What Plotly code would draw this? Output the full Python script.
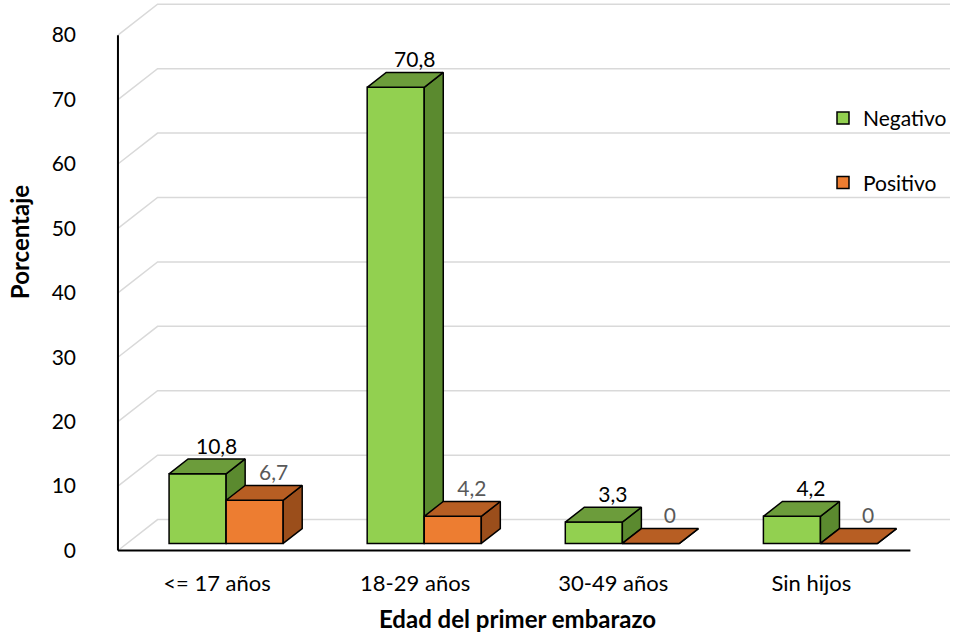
import plotly.graph_objects as go

# Data
categories = ["<= 17 años", "18-29 años", "30-49 años", "Sin hijos"]
negativo = [10.8, 70.8, 3.3, 4.2]
positivo = [6.7, 4.2, 0, 0]
y_ticks = [0, 10, 20, 30, 40, 50, 60, 70, 80]

FONT = "Lato"

# Oblique projection of the depth axis (wall depth in axis units)
WALL_DX = 0.2      # category units
WALL_DY = 4.8      # percentage units
F_FRONT = 0.23     # bar front as a fraction of wall depth
F_BACK = 0.71      # bar back as a fraction of wall depth
BAR_W = 0.288      # bar width in category units

x_pos = list(range(len(categories)))
shift_front = F_FRONT * WALL_DX
base_front = F_FRONT * WALL_DY
bar_dx = (F_BACK - F_FRONT) * WALL_DX
bar_dy = (F_BACK - F_FRONT) * WALL_DY

series = [
    dict(name="Negativo", values=negativo, offset=shift_front - BAR_W,
         front="#92D050", top="#6C9C3B", side="#5B8A2F", label="#000000"),
    dict(name="Positivo", values=positivo, offset=shift_front,
         front="#ED7D31", top="#B75E23", side="#9B4E1B", label="#595959"),
]

fig = go.Figure()

for z, s in enumerate(series):
    vals = s["values"]
    # front faces
    fig.add_trace(go.Bar(
        x=x_pos, y=vals, base=[base_front] * len(vals),
        width=BAR_W, offset=s["offset"],
        marker=dict(color=s["front"], line=dict(color="black", width=1.5)),
        name=s["name"], legendgroup=s["name"], zorder=z * 2,
        hoverinfo="skip",
    ))
    top_x, top_y, side_x, side_y = [], [], [], []
    lab_x, lab_y, lab_t = [], [], []
    for xc, v in zip(x_pos, vals):
        x0 = xc + s["offset"]
        x1 = x0 + BAR_W
        yt = base_front + v
        top_x += [x0, x1, x1 + bar_dx, x0 + bar_dx, x0, None]
        top_y += [yt, yt, yt + bar_dy, yt + bar_dy, yt, None]
        side_x += [x1, x1 + bar_dx, x1 + bar_dx, x1, x1, None]
        side_y += [base_front, base_front + bar_dy, yt + bar_dy, yt, base_front, None]
        lab_x.append((x0 + x1) / 2 + bar_dx)
        lab_y.append(yt + bar_dy)
        lab_t.append(("%g" % v).replace(".", ","))
    for fx, fy, col in ((side_x, side_y, s["side"]), (top_x, top_y, s["top"])):
        fig.add_trace(go.Scatter(
            x=fx, y=fy, mode="lines", fill="toself", fillcolor=col,
            line=dict(color="black", width=1.5), showlegend=False,
            legendgroup=s["name"], hoverinfo="skip", zorder=z * 2 + 1,
        ))
    fig.add_trace(go.Scatter(
        x=lab_x, y=lab_y, mode="text", text=lab_t, textposition="top center",
        textfont=dict(family=FONT, size=21, color=s["label"]),
        showlegend=False, hoverinfo="skip", cliponaxis=False, zorder=5,
    ))

# Walls: gridlines run from the front axis back and across the rear wall
x_left = -0.5
x_right = len(categories) - 0.5
shapes = []
for t in y_ticks:
    shapes.append(dict(
        type="path", xref="x", yref="y", layer="below",
        path=f"M {x_left},{t} L {x_left + WALL_DX},{t + WALL_DY} L {x_right + WALL_DX},{t + WALL_DY}",
        line=dict(color="#D9D9D9", width=1.5),
    ))
# Front axis lines
shapes.append(dict(type="line", xref="x", yref="y", x0=x_left, x1=x_left,
                   y0=0, y1=max(y_ticks), line=dict(color="black", width=2)))
shapes.append(dict(type="line", xref="x", yref="y", x0=x_left, x1=x_right,
                   y0=0, y1=0, line=dict(color="black", width=2)))

fig.update_layout(
    width=953, height=633,
    margin=dict(l=114, r=1, t=1, b=78),
    paper_bgcolor="white", plot_bgcolor="white",
    barmode="overlay",
    font=dict(family=FONT, size=21, color="black"),
    shapes=shapes,
    showlegend=True,
    legend=dict(
        x=1.0, y=0.825, xanchor="right", yanchor="top",
        bgcolor="rgba(0,0,0,0)", tracegroupgap=34,
        font=dict(family=FONT, size=21, color="black"),
        itemwidth=30,
    ),
    xaxis=dict(
        range=[-0.52, 3.71], tickvals=x_pos, ticktext=categories,
        showgrid=False, zeroline=False, showline=False, ticks="",
        ticklabelstandoff=13, tickfont=dict(family=FONT, size=22, color="black"),
        automargin=False,
    ),
    yaxis=dict(
        range=[-0.7, 85.3], tickvals=y_ticks, showgrid=False, zeroline=False,
        showline=False, ticks="", ticklabelstandoff=37,
        tickfont=dict(family=FONT, size=21, color="black"),
        automargin=False,
    ),
    annotations=[
        dict(text="<b>Porcentaje</b>", xref="paper", yref="paper",
             x=-0.112, y=0.565, textangle=-90, showarrow=False,
             xanchor="center", yanchor="middle",
             font=dict(family=FONT, size=24, color="black")),
        dict(text="<b>Edad del primer embarazo</b>", xref="paper", yref="paper",
             x=0.482, y=-0.115, showarrow=False, xanchor="center", yanchor="middle",
             font=dict(family=FONT, size=24, color="black")),
    ],
)

fig.write_html("out.html")
